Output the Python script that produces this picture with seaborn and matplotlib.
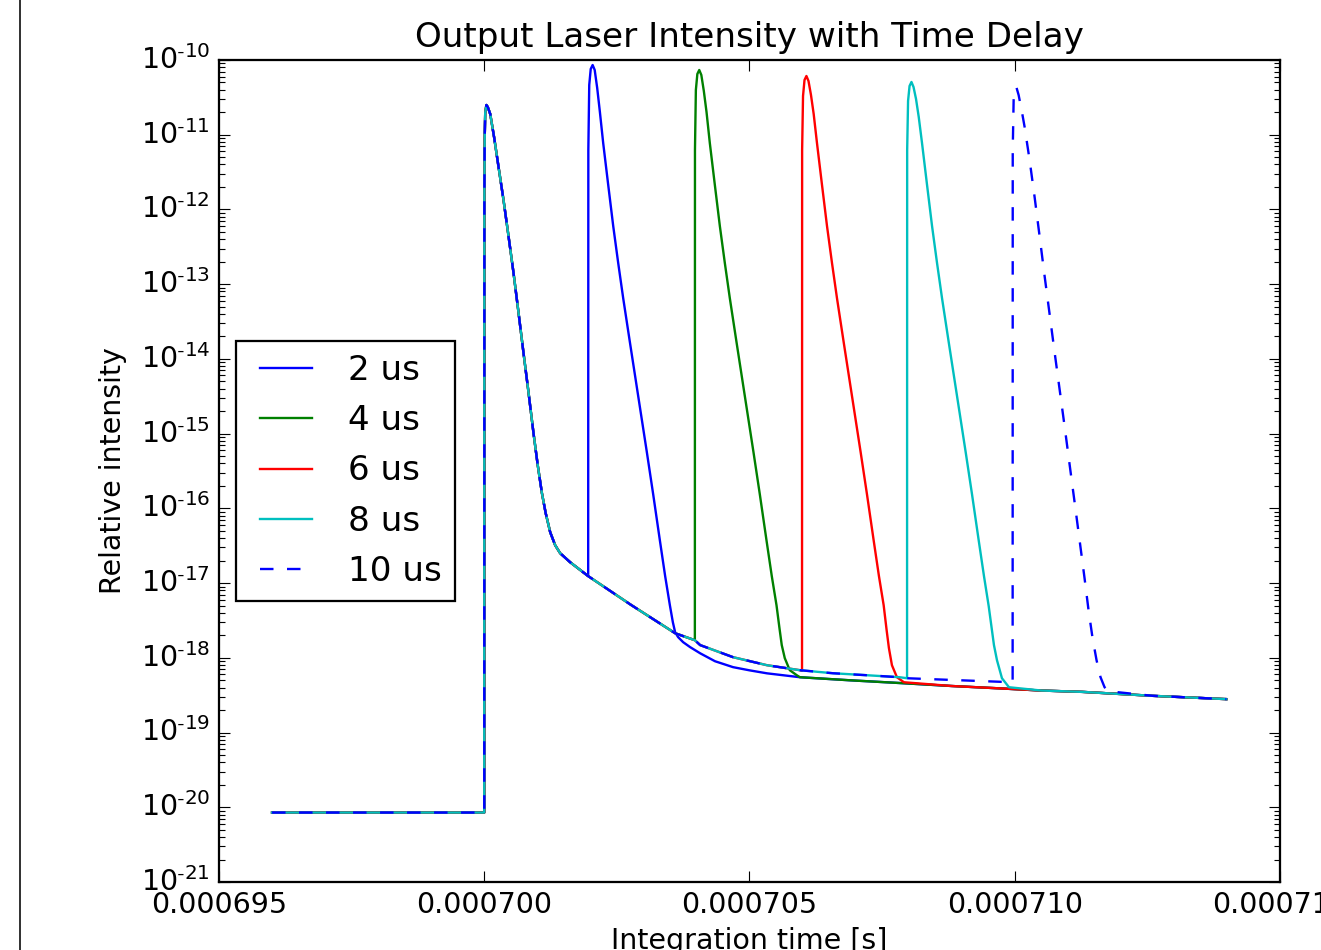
import numpy as np
import pandas as pd
import matplotlib.pyplot as plt
import seaborn as sns
from matplotlib.lines import Line2D
from matplotlib.ticker import FormatStrFormatter, FuncFormatter, LogLocator

# Values. Time in microseconds, intensity relative.
# Shared trace (first pulse + slow decay) that every run follows until its second pulse
common_t = [696.0, 700.0, 700.002, 700.008, 700.018, 700.04, 700.066, 700.113, 700.188,
            700.264, 700.363, 700.452, 700.552, 700.64, 700.74, 700.829, 700.928, 701.008,
            701.087, 701.158, 701.243, 701.337, 701.431, 701.62, 701.959, 702.75, 703.60,
            703.97, 704.07, 704.69, 705.33, 705.95, 706.57, 707.21, 707.83, 707.97, 708.96,
            709.96]
common_I = [8.5e-21, 8.5e-21, 1.34e-12, 8.49e-12, 1.95e-11, 2.5e-11, 2.35e-11, 1.89e-11, 9.04e-12,
            3.93e-12, 1.34e-12, 4.69e-13, 1.41e-13, 4.5e-14, 1.2e-14, 3.82e-15, 1.02e-15, 3.79e-16,
            1.6e-16, 8.63e-17, 4.8e-17, 3.21e-17, 2.51e-17, 1.9e-17, 1.24e-17, 5.2e-18, 2.13e-18,
            1.72e-18, 1.48e-18, 1.02e-18, 7.96e-19, 6.83e-19, 6.22e-19, 5.85e-19, 5.5e-19, 5.33e-19,
            5.01e-19, 4.71e-19]

# Trace after the second pulse has died out
tail_t = [704.07, 704.35, 704.69, 705.0, 705.33, 705.95, 706.9, 707.83, 708.8, 709.72,
          710.5, 711.28, 712.6, 713.99]
tail_I = [1.15e-18, 9.0e-19, 7.5e-19, 6.8e-19, 6.2e-19, 5.5e-19, 5.0e-19, 4.6e-19, 4.2e-19,
          3.9e-19, 3.65e-19, 3.5e-19, 3.1e-19, 2.8e-19]

# Second pulse of each run
p2_t = [701.962, 701.979, 702.007, 702.043, 702.082, 702.129, 702.18, 702.242, 702.337,
        702.431, 702.525, 702.619, 702.745, 702.902, 703.065, 703.184, 703.31, 703.41,
        703.499, 703.555, 703.598, 703.655, 703.749, 703.881]
p2_I = [6.24e-12, 4.63e-11, 7.58e-11, 8.57e-11, 7.35e-11, 4.22e-11, 2.01e-11, 7.74e-12, 2.12e-12,
        6.0e-13, 1.92e-13, 6.5e-14, 1.68e-14, 3.18e-15, 5.65e-16, 1.55e-16, 3.75e-17, 1.24e-17,
        5.06e-18, 3.0e-18, 2.2e-18, 1.89e-18, 1.62e-18, 1.39e-18]

p4_t = [703.972, 703.989, 704.017, 704.053, 704.092, 704.139, 704.19, 704.252, 704.347,
        704.441, 704.535, 704.629, 704.755, 704.912, 705.075, 705.194, 705.32, 705.42,
        705.509, 705.565, 705.608, 705.665, 705.759, 705.891]
p4_I = [6.24e-12, 3.97e-11, 6.5e-11, 7.35e-11, 6.3e-11, 3.85e-11, 2.01e-11, 7.74e-12, 2.12e-12,
        6.0e-13, 1.92e-13, 6.5e-14, 1.68e-14, 3.18e-15, 5.65e-16, 1.55e-16, 3.75e-17, 1.24e-17,
        5.06e-18, 2.49e-18, 1.48e-18, 9.9e-19, 6.83e-19, 5.85e-19]

p6_t = [705.99, 705.992, 706.009, 706.037, 706.073, 706.112, 706.159, 706.21, 706.272, 706.367,
        706.461, 706.555, 706.649, 706.775, 706.932, 707.095, 707.214, 707.34, 707.44,
        707.529, 707.585, 707.628, 707.685, 707.779, 707.911]
p6_I = [6.7e-19, 6.24e-12, 3.30e-11, 5.4e-11, 6.11e-11, 5.24e-11, 3.40e-11, 1.89e-11, 7.74e-12,
        2.12e-12, 6.0e-13, 1.92e-13, 6.5e-14, 1.68e-14, 3.18e-15, 5.65e-16, 1.55e-16, 3.75e-17,
        1.24e-17, 5.06e-18, 2.34e-18, 1.35e-18, 7.96e-19, 5.5e-19, 4.71e-19]

p8_t = [707.972, 707.989, 708.017, 708.053, 708.092, 708.139, 708.19, 708.252, 708.347,
        708.441, 708.535, 708.629, 708.755, 708.912, 709.075, 709.194, 709.32, 709.42,
        709.509, 709.565, 709.608, 709.665, 709.759, 709.891]
p8_I = [6.24e-12, 2.83e-11, 4.49e-11, 5.08e-11, 4.35e-11, 3.01e-11, 1.73e-11, 7.74e-12, 2.12e-12,
        6.0e-13, 1.92e-13, 6.5e-14, 1.68e-14, 3.18e-15, 5.65e-16, 1.55e-16, 3.75e-17, 1.24e-17,
        4.91e-18, 2.49e-18, 1.48e-18, 9.29e-19, 5.33e-19, 4.04e-19]

p10_t = [709.962, 709.979, 710.003, 710.03, 710.073, 710.129, 710.186, 710.28, 710.374,
         710.468, 710.563, 710.657, 710.751, 710.845, 710.939, 711.033, 711.128, 711.222,
         711.316, 711.391, 711.467, 711.542, 711.617, 711.693, 711.768]
p10_I = [6.24e-12, 2.91e-11, 3.97e-11, 4.35e-11, 3.40e-11, 2.14e-11, 1.27e-11, 4.58e-12, 1.47e-12,
         4.41e-13, 1.28e-13, 3.98e-14, 1.23e-14, 3.94e-15, 1.26e-15, 3.91e-16, 1.21e-16, 3.75e-17,
         1.16e-17, 4.34e-18, 1.83e-18, 9.29e-19, 5.5e-19, 4.04e-19, 3.57e-19]

labels = ['2 us', '4 us', '6 us', '8 us', '10 us']
pulses = [(p2_t, p2_I), (p4_t, p4_I), (p6_t, p6_I), (p8_t, p8_I), (p10_t, p10_I)]
colors = ['b', 'g', 'r', 'c', 'b']
styles = ['-', '-', '-', '-', '--']


def build_run(p_t, p_I):
    ct, ci = np.array(common_t), np.array(common_I)
    tt, ti = np.array(tail_t), np.array(tail_I)
    before = ct < p_t[0]
    after = tt > p_t[-1]
    t = np.concatenate([ct[before], p_t, tt[after]])
    I = np.concatenate([ci[before], p_I, ti[after]])
    return t * 1e-6, I


frames = []
for lab, (pt, pi) in zip(labels, pulses):
    t, I = build_run(pt, pi)
    frames.append(pd.DataFrame({'time': t, 'intensity': I, 'delay': lab}))
df = pd.concat(frames, ignore_index=True)

plt.style.use('classic')
plt.rcParams['font.family'] = 'DejaVu Sans'
plt.rcParams['axes.unicode_minus'] = False

DPI = 162
fig = plt.figure(figsize=(1321 / DPI, 950 / DPI), dpi=DPI, facecolor='white')
ax = fig.add_axes([219 / 1321, 68 / 950, 1061 / 1321, 822 / 950])

for lab, c, ls in zip(labels, colors, styles):
    sns.lineplot(data=df[df['delay'] == lab], x='time', y='intensity', color=c,
                 linestyle=ls, linewidth=1.05, label=lab, estimator=None, sort=False, ax=ax)

ax.set_yscale('log')
ax.set_ylim(1e-21, 1e-10)
ax.set_xlim(0.000695, 0.000715)
ax.set_xticks([0.000695, 0.000700, 0.000705, 0.000710, 0.000715])
ax.xaxis.set_major_formatter(FormatStrFormatter('%.6f'))
ax.yaxis.set_major_locator(LogLocator(base=10, numticks=20))
ax.yaxis.set_minor_locator(LogLocator(base=10, subs=np.arange(2, 10), numticks=200))
ax.yaxis.set_major_formatter(FuncFormatter(
    lambda v, pos: r'$\mathdefault{10^{\text{-}%d}}$' % round(-np.log10(v))))
ax.tick_params(which='major', length=5, direction='in', top=True, right=True, labelsize=12.7)
ax.tick_params(which='minor', length=2.7, direction='in', top=True, right=True)

ax.set_title('Output Laser Intensity with Time Delay', fontsize=15.2, pad=6)
ax.set_xlabel('Integration time [s]', fontsize=12.7, labelpad=3.5)
ax.set_ylabel('Relative intensity', fontsize=12.7, labelpad=6)
ax.legend(loc='center left', fontsize=15.2, handlelength=2.12, handletextpad=0.75,
          labelspacing=0.5, fancybox=False, framealpha=1)

# left edge line of the original screenshot
fig.add_artist(Line2D([19.5 / 1321, 19.5 / 1321], [0, 1], color='black', lw=0.7))

fig.savefig('out.png', dpi=DPI, facecolor='white')
